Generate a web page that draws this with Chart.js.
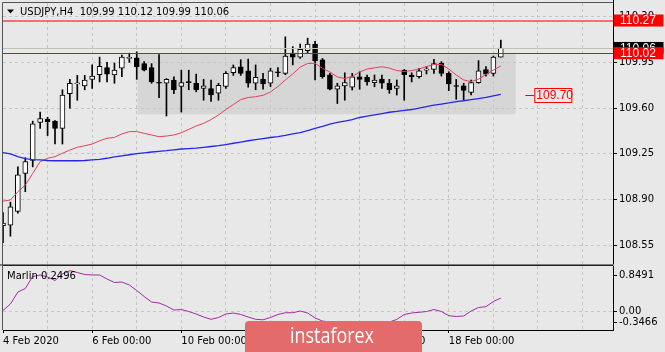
<!DOCTYPE html>
<html><head><meta charset="utf-8">
<script src="https://cdn.jsdelivr.net/npm/chart.js@4.4.1/dist/chart.umd.min.js"></script>
<style>
html,body{margin:0;padding:0;background:#e8e8e8;width:665px;height:352px;overflow:hidden;}
#wrap{position:relative;width:665px;height:352px;}
#c1{position:absolute;left:0;top:0;width:665px;height:266px;}
#c2{position:absolute;left:0;top:264px;width:665px;height:88px;}
</style></head>
<body><div id="wrap"><canvas id="c1" width="665" height="266"></canvas><canvas id="c2" width="665" height="88"></canvas></div>
<script>
// ---------- DATA (USDJPY H4, bar index 0 = 4 Feb 2020 00:00) ----------
const SYMBOL = 'USDJPY,H4';
const OPEN  = [108.70,108.705,108.81,109.10,109.20,109.49,109.515,109.50,109.445,109.71,109.785,109.77,109.82,109.855,109.91,109.853,109.905,109.98,109.985,109.94,109.91,109.795,109.79,109.815,109.765,109.80,109.79,109.75,109.75,109.715,109.765,109.87,109.915,109.885,109.79,109.82,109.79,109.875,109.866,110.02,109.99,110.04,110.09,109.97,109.855,109.745,109.77,109.76,109.84,109.835,109.795,109.822,109.79,109.75,109.89,109.853,109.84,109.89,109.895,109.945,109.865,109.77,109.77,109.72,109.795,109.895,109.865,109.99];
const HIGH  = [108.80,108.88,109.15,109.22,109.50,109.57,109.53,109.505,109.74,109.82,109.85,109.85,109.93,109.99,109.95,109.945,110.005,110.02,110.03,109.955,109.94,110.01,109.825,109.84,109.89,109.89,109.86,109.82,109.815,109.79,109.88,109.93,109.97,109.975,109.93,109.865,109.905,109.91,110.145,110.07,110.09,110.135,110.11,109.98,109.866,109.79,109.87,109.866,109.878,109.853,109.853,109.853,109.82,109.815,109.895,109.87,109.905,109.917,109.973,109.955,109.878,109.82,109.79,109.815,109.963,109.917,109.998,110.12];
const LOW   = [108.57,108.62,108.795,108.96,109.15,109.445,109.39,109.325,109.325,109.60,109.66,109.74,109.75,109.80,109.80,109.79,109.84,109.95,109.82,109.885,109.79,109.68,109.54,109.71,109.57,109.74,109.725,109.66,109.65,109.66,109.75,109.85,109.85,109.76,109.74,109.745,109.765,109.84,109.855,109.93,109.98,110.02,109.815,109.828,109.738,109.635,109.66,109.738,109.744,109.776,109.763,109.751,109.713,109.70,109.66,109.80,109.828,109.861,109.866,109.845,109.733,109.667,109.66,109.70,109.79,109.845,109.845,109.99];
const CLOSE = [108.72,108.845,109.09,109.19,109.48,109.52,109.495,109.445,109.70,109.79,109.79,109.815,109.845,109.92,109.86,109.89,109.99,109.985,109.915,109.89,109.80,109.79,109.82,109.74,109.795,109.795,109.74,109.77,109.70,109.775,109.865,109.91,109.865,109.79,109.835,109.785,109.885,109.87,109.998,109.99,110.05,110.09,109.96,109.84,109.745,109.77,109.795,109.84,109.82,109.80,109.815,109.79,109.74,109.77,109.855,109.84,109.885,109.892,109.94,109.865,109.785,109.765,109.735,109.795,109.885,109.86,109.99,110.06];
const MA_RED  = [108.888,108.897,108.96,109.011,109.10,109.19,109.216,109.228,109.254,109.279,109.30,109.312,109.325,109.35,109.369,109.376,109.402,109.42,109.42,109.407,109.394,109.381,109.386,109.394,109.411,109.437,109.463,109.483,109.512,109.547,109.589,109.627,109.665,109.681,109.687,109.698,109.723,109.765,109.815,109.861,109.914,109.941,109.943,109.904,109.876,109.838,109.826,109.841,109.876,109.899,109.908,109.916,109.906,109.887,109.88,109.887,109.899,109.918,109.933,109.933,109.899,109.853,109.815,109.802,109.822,109.857,109.891,109.922];
const MA_BLUE = [109.26,109.249,109.229,109.214,109.205,109.203,109.199,109.197,109.197,109.197,109.197,109.199,109.203,109.208,109.216,109.226,109.235,109.243,109.251,109.258,109.264,109.269,109.274,109.281,109.287,109.29,109.294,109.30,109.306,109.312,109.321,109.331,109.34,109.35,109.358,109.366,109.375,109.382,109.391,109.402,109.413,109.428,109.444,109.46,109.478,109.49,109.501,109.512,109.528,109.539,109.548,109.558,109.568,109.574,109.583,109.589,109.60,109.612,109.623,109.631,109.639,109.649,109.656,109.665,109.673,109.682,109.693,109.705];
const MARLIN  = [0.018,0.139,0.363,0.429,0.653,0.681,0.644,0.578,0.70,0.761,0.728,0.69,0.681,0.681,0.606,0.541,0.55,0.494,0.391,0.279,0.176,0.158,0.102,0.027,0.036,-0.001,-0.048,-0.104,-0.147,-0.113,-0.048,-0.029,-0.057,-0.104,-0.147,-0.156,-0.113,-0.057,-0.024,-0.024,0.008,-0.029,-0.122,-0.179,-0.197,-0.253,-0.309,-0.3466,-0.328,-0.29,-0.253,-0.225,-0.197,-0.15,-0.057,-0.029,-0.016,-0.001,0.036,-0.001,-0.079,-0.094,-0.085,0.008,0.074,0.089,0.186,0.2496];
const PRICE_TICKS  = [108.55,108.90,109.25,109.60,109.95,110.30];
const MARLIN_TICKS = [-0.3466,0.00,0.8491];
const MARLIN_TICK_LABELS = ['-0.3466','0.00','0.8491'];
const DATE_TICK_BARS = [0,12,24,36,48,60];
const DATE_LABELS = ['4 Feb 2020','6 Feb 00:00','10 Feb 00:00','12 Feb 00:00','14 Feb 00:00','18 Feb 00:00'];
const LEVELS = [110.27,110.02];
const BID = 110.06;
const BOX_BARS = [18.1,69.0];
const BOX_PRICES = [109.552,110.02];
const NOTE_PRICE = 109.70, NOTE_BAR = 70.3;
const BARS_PER_DAY = 6;

// ---------- helpers ----------
const X_MIN = 0, X_MAX = 82.1;
const FONT = '"DejaVu Sans"';
const N = OPEN.length;
const idx = [...Array(N).keys()];
const gridBars = []; for (let b = BARS_PER_DAY; b < X_MAX; b += BARS_PER_DAY) gridBars.push(b);
const gridBarsB = [0, ...gridBars];
const GRID = '#c6c6c6';

const wickData = idx.map(i => ({x:i, y:[LOW[i], HIGH[i]]}));
const bodyData = idx.map(i => ({x:i, y:[OPEN[i], CLOSE[i]]}));
const bodyColors = idx.map(i => CLOSE[i] >= OPEN[i] ? '#ffffff' : '#000000');

function rightAxisFit(s){ s.width = 52; s.paddingTop = 0; s.paddingBottom = 0; }
function xAxisFit(h){ return s => { s.height = h; s.paddingLeft = 0; s.paddingRight = 0; }; }

const mainDeco = {
  id:'mainDeco',
  beforeDraw(chart){
    const {ctx, scales:{x,y}} = chart;
    ctx.save();
    ctx.fillStyle = '#d6d6d6';
    const x0 = x.getPixelForValue(BOX_BARS[0]), x1 = x.getPixelForValue(BOX_BARS[1]);
    const y0 = y.getPixelForValue(BOX_PRICES[1]), y1 = y.getPixelForValue(BOX_PRICES[0]);
    ctx.fillRect(x0, y0, x1-x0, y1-y0);
    ctx.restore();
  },
  afterDatasetsDraw(chart){
    const {ctx, scales:{x,y}, chartArea:a} = chart;
    ctx.save();
    const line = (p, color, w) => { const py = Math.round(y.getPixelForValue(p)) + (w%2 ? 0.5 : 0); ctx.strokeStyle = color; ctx.lineWidth = w; ctx.beginPath(); ctx.moveTo(a.left, py); ctx.lineTo(a.right, py); ctx.stroke(); };
    line(BID, '#c0c0c0', 1);
    line(LEVELS[0], 'rgba(255,70,70,0.75)', 2);
    line(LEVELS[1], '#ff0000', 1);
    // note label 109.70
    const ny = Math.round(y.getPixelForValue(NOTE_PRICE)) + 0.5;
    const nx = x.getPixelForValue(NOTE_BAR);
    ctx.strokeStyle = '#ff0000'; ctx.lineWidth = 1;
    ctx.beginPath(); ctx.moveTo(nx, ny); ctx.lineTo(nx+9, ny); ctx.stroke();
    ctx.fillStyle = '#e8e8e8';
    ctx.fillRect(nx+9.5, ny-7, 37, 14);
    ctx.strokeRect(nx+9.5, ny-7, 37, 14);
    ctx.fillStyle = '#ff0000'; ctx.font = '12px "Liberation Sans"'; ctx.textBaseline = 'middle'; ctx.textAlign = 'left';
    ctx.fillText(NOTE_PRICE.toFixed(2), nx+11, ny+0.5);
    ctx.restore();
  },
  afterDraw(chart){
    const {ctx, scales:{y}, chartArea:a} = chart;
    ctx.save();
    // price labels on the axis
    const tag = (p, bg, fg) => { const py = y.getPixelForValue(p); ctx.fillStyle = bg; ctx.fillRect(a.right+0.5, py-6, 50, 12); ctx.fillStyle = fg; ctx.font = '12px "Liberation Sans"'; ctx.textBaseline = 'middle'; ctx.textAlign = 'left'; ctx.fillText(p.toFixed(2), a.right+7, py+0.5); };
    tag(BID, '#000000', '#ffffff');
    tag(LEVELS[0], '#ff0000', '#ffffff');
    tag(LEVELS[1], '#ff0000', '#ffffff');
    // frame
    ctx.strokeStyle = '#555'; ctx.lineWidth = 1;
    ctx.beginPath(); ctx.moveTo(a.left-0.5, a.top-0.5); ctx.lineTo(a.right, a.top-0.5); ctx.moveTo(a.left-0.5, a.top-0.5); ctx.lineTo(a.left-0.5, 266); ctx.stroke();
    ctx.strokeStyle = '#000'; ctx.beginPath(); ctx.moveTo(a.right+0.5, 0); ctx.lineTo(a.right+0.5, a.top); ctx.stroke();
    ctx.fillStyle = '#7d7d7d'; ctx.fillRect(0, a.bottom, a.right+1, 2);
    // title
    ctx.fillStyle = '#000';
    ctx.beginPath(); ctx.moveTo(7, 9.5); ctx.lineTo(14, 9.5); ctx.lineTo(10.5, 13.5); ctx.closePath(); ctx.fill();
    ctx.font = '10px ' + FONT; ctx.textBaseline = 'middle'; ctx.textAlign = 'left';
    const last = N-1;
    ctx.fillText(SYMBOL + '  ' + [OPEN[last], HIGH[last], LOW[last], CLOSE[last]].map(v => v.toFixed(2)).join(' '), 20, 12);
    ctx.restore();
  }
};

new Chart(document.getElementById('c1'), {
  type:'bar',
  data:{ datasets:[
    {type:'line', data: idx.map(i => ({x:i, y:MA_BLUE[i]})), borderColor:'#2626f0', borderWidth:1.3, pointRadius:0, tension:0, order:0},
    {type:'line', data: idx.map(i => ({x:i, y:MA_RED[i]})), borderColor:'#e2415f', borderWidth:1, pointRadius:0, tension:0, order:1},
    {type:'bar', data: bodyData, backgroundColor: bodyColors, borderColor:'#000', borderWidth:1, borderSkipped:false, barThickness:5, minBarLength:1, grouped:false, order:2},
    {type:'bar', data: wickData, backgroundColor:'#000', borderWidth:0, barThickness:1, grouped:false, order:3}
  ]},
  options:{
    responsive:false, animation:false, events:[],
    layout:{autoPadding:false, padding:{left:3, top:3, right:0, bottom:2}},
    plugins:{legend:{display:false}, tooltip:{enabled:false}},
    scales:{
      x:{type:'linear', min:X_MIN, max:X_MAX, offset:false,
         afterBuildTicks: s => { s.ticks = gridBars.map(v => ({value:v})); },
         afterFit: xAxisFit(0),
         ticks:{display:false}, border:{display:false, dash:[3,3]},
         grid:{offset:false, color:GRID, drawTicks:false, tickBorderDash:[]}},
      y:{type:'linear', position:'right', min:108.407, max:110.404, beginAtZero:false,
         afterBuildTicks: s => { s.ticks = PRICE_TICKS.map(v => ({value:v})); },
         afterFit: rightAxisFit,
         ticks:{color:'#000', font:{family:'DejaVu Sans', size:10}, padding:2, callback: v => Number(v).toFixed(2)},
         border:{display:true, color:'#000', width:1, dash:[3,3]},
         grid:{color:GRID, tickColor:'#000', tickLength:4, tickBorderDash:[]}}
    }
  },
  plugins:[mainDeco]
});

const lowerDeco = {
  id:'lowerDeco',
  afterDraw(chart){
    const {ctx, scales:{y}, chartArea:a} = chart;
    ctx.save();
    ctx.font = '10px ' + FONT; ctx.textBaseline = 'middle'; ctx.textAlign = 'left'; ctx.fillStyle = '#000';
    ctx.strokeStyle = '#000'; ctx.lineWidth = 1;
    MARLIN_TICKS.forEach((v, k) => {
      let py = y.getPixelForValue(v);
      py = Math.min(Math.max(py, a.top + 9), a.bottom - 8);
      const ry = Math.round(py) + 0.5;
      ctx.beginPath(); ctx.moveTo(a.right, ry); ctx.lineTo(a.right + 4, ry); ctx.stroke();
      ctx.fillText(MARLIN_TICK_LABELS[k], a.right + 6, py);
    });
    // frame
    ctx.strokeStyle = '#555';
    ctx.beginPath(); ctx.moveTo(a.left-0.5, 0); ctx.lineTo(a.left-0.5, a.bottom); ctx.stroke();
    ctx.strokeStyle = '#222';
    ctx.beginPath(); ctx.moveTo(a.left, a.top-0.5); ctx.lineTo(a.right, a.top-0.5); ctx.stroke();
    // indicator label
    ctx.fillStyle = '#000';
    ctx.fillText('Marlin ' + MARLIN[N-1].toFixed(4), 7, a.top + 10);
    // watermark
    ctx.fillStyle = '#e36b6b';
    ctx.beginPath(); ctx.roundRect(245, 57, 177, 40, 4); ctx.fill();
    ctx.fillStyle = '#ffffff'; ctx.font = '21px "Open Sans"'; ctx.textBaseline = 'alphabetic';
    ctx.fillText('instaforex', 290, 79, 84);
    ctx.restore();
  }
};

new Chart(document.getElementById('c2'), {
  type:'line',
  data:{ datasets:[
    {data: idx.map(i => ({x:i, y:MARLIN[i]})), borderColor:'#a32aa8', borderWidth:1, pointRadius:0, tension:0}
  ]},
  options:{
    responsive:false, animation:false, events:[],
    layout:{autoPadding:false, padding:{left:3, top:2, right:0, bottom:0}},
    plugins:{legend:{display:false}, tooltip:{enabled:false}},
    scales:{
      x:{type:'linear', min:X_MIN, max:X_MAX, offset:false,
         afterBuildTicks: s => { s.ticks = gridBarsB.map(v => ({value:v})); },
         afterFit: xAxisFit(22),
         ticks:{display:true, autoSkip:false, maxRotation:0, align:'start', padding:2, color:'#000', font:{family:'DejaVu Sans', size:10},
                callback: v => { const k = DATE_TICK_BARS.indexOf(v); return k >= 0 ? DATE_LABELS[k] : ''; }},
         border:{display:true, color:'#000', width:1, dash:[3,3]},
         grid:{color: c => (c.tick && c.tick.value === 0) ? 'transparent' : GRID, drawOnChartArea:true, tickLength:3, tickBorderDash:[],
               tickColor: c => (c.tick && DATE_TICK_BARS.includes(c.tick.value)) ? '#000' : 'transparent'}},
      y:{type:'linear', position:'right', min:MARLIN_TICKS[0], max:MARLIN_TICKS[2], beginAtZero:false,
         afterBuildTicks: s => { s.ticks = MARLIN_TICKS.map(v => ({value:v})); },
         afterFit: rightAxisFit,
         ticks:{display:false},
         border:{display:true, color:'#000', width:1, dash:[3,3]},
         grid:{drawTicks:false, color: c => (c.tick && c.tick.value === 0) ? GRID : 'transparent'}}
    }
  },
  plugins:[lowerDeco]
});
</script>
</body></html>
